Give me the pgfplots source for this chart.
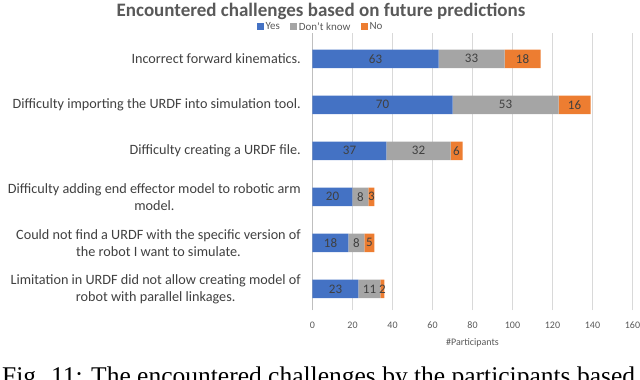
\documentclass[border=0pt]{standalone}
\usepackage{fontspec}
\setmainfont{Carlito}
\newfontfamily\capfont{Liberation Serif}
\usepackage{pgfplots}
\pgfplotsset{compat=1.18}
\usepackage{pgfplotstable}

\definecolor{cyes}{HTML}{4472C4}
\definecolor{cdk}{HTML}{A5A5A5}
\definecolor{cno}{HTML}{ED7D31}
\definecolor{txt}{HTML}{404040}
\definecolor{lbl}{HTML}{595959}
\definecolor{gridc}{HTML}{D9D9D9}
\definecolor{axc}{HTML}{BFBFBF}

% idx 0 = bottom bar
\pgfplotstableread{
idx yes dk no
0 23 11 2
1 18 8 5
2 20 8 3
3 37 32 6
4 70 53 16
5 63 33 18
}\challenges

\begin{document}
\begin{tikzpicture}
\useasboundingbox (0pt,0pt) rectangle (640pt,-380pt);

\node[font=\bfseries\fontsize{19}{22}\selectfont, text=lbl] at (321pt,-11pt)
  {Encountered challenges based on future predictions};

\begin{axis}[
  at={(312.5pt,-310pt)}, anchor=south west,
  scale only axis, width=320pt, height=277pt,
  xbar stacked, bar width=18.5pt,
  xmin=0, xmax=160, ymin=-0.46, ymax=5.56,
  xtick={0,20,...,160},
  ytick={0,...,5},
  yticklabels={
    {Limitation in URDF did not allow creating model of\\robot with parallel linkages.},
    {Could not find a URDF with the specific version of\\the robot I want to simulate.},
    {Difficulty adding end effector model to robotic arm\\model.},
    {Difficulty creating a URDF file.},
    {Difficulty importing the URDF into simulation tool.},
    {Incorrect forward kinematics.}},
  yticklabel style={align=center, inner sep=0pt, xshift=-11.5pt,
    font=\fontsize{14.2}{17}\selectfont, text=txt},
  xticklabel style={font=\fontsize{10}{12}\selectfont, text=lbl, yshift=-8pt},
  /pgf/number format/assume math mode=true,
  axis x line*=bottom, axis y line*=left,
  x axis line style={draw=none}, y axis line style={draw=axc},
  tick style={draw=none},
  xmajorgrids, grid style={draw=gridc},
  xlabel={\#Participants},
  xlabel style={at={(axis description cs:0.5,-0.12)}, anchor=center,
    font=\fontsize{10}{12}\selectfont, text=lbl},
  legend columns=3,
  legend style={at={(axis description cs:0.025,1.022)}, anchor=center,
    draw=none, fill=none, font=\fontsize{11}{13}\selectfont, text=lbl,
    /tikz/every even column/.append style={column sep=8pt}},
  legend image code/.code={\fill[#1] (0pt,-3.5pt) rectangle (7pt,3.5pt);},
]
\addplot[fill=cyes, draw=none] table[x=yes, y=idx] {\challenges};
\addplot[fill=cdk, draw=none] table[x=dk, y=idx] {\challenges};
\addplot[fill=cno, draw=none] table[x=no, y=idx] {\challenges};
\legend{Yes, Don't know, No}
\end{axis}

% value labels centred in each segment
\begin{axis}[
  at={(312.5pt,-310pt)}, anchor=south west,
  scale only axis, width=320pt, height=277pt,
  xmin=0, xmax=160, ymin=-0.46, ymax=5.56,
  hide axis,
  nodes near coords, point meta=explicit symbolic,
  nodes near coords align=center,
  every node near coord/.append style={font=\fontsize{13}{15}\selectfont, text=txt, inner sep=0pt},
]
\addplot[draw=none, mark=none] table[x expr=\thisrow{yes}/2, y=idx, meta=yes] {\challenges};
\addplot[draw=none, mark=none] table[x expr=\thisrow{yes}+\thisrow{dk}/2, y=idx, meta=dk] {\challenges};
\addplot[draw=none, mark=none] table[x expr=\thisrow{yes}+\thisrow{dk}+\thisrow{no}/2, y=idx, meta=no] {\challenges};
\end{axis}

\node[anchor=base west, inner sep=0pt, font=\capfont\fontsize{25.5}{30}\selectfont]
  at (2pt,-384pt) {Fig. 11: The encountered challenges by the participants based};
\end{tikzpicture}
\end{document}
